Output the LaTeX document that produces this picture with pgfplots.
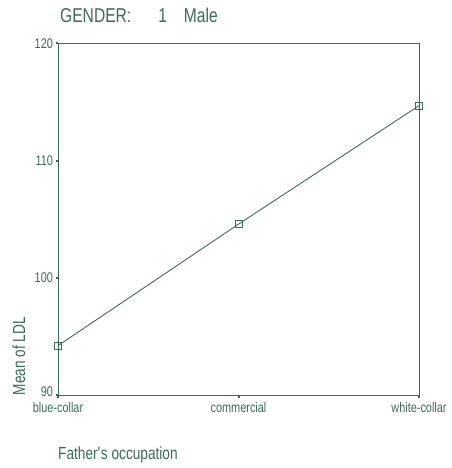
\documentclass[border=0pt]{standalone}
\usepackage{fontspec}
\setmainfont{Liberation Sans}[FakeStretch=0.78]
\usepackage{pgfplots}
\pgfplotsset{compat=1.18}
\definecolor{sg}{RGB}{59,107,87}
\begin{document}
\begin{tikzpicture}[x=1pt,y=1pt]
\path[use as bounding box] (0,0) rectangle (451,468);
\begin{axis}[
  at={(58pt,72.5pt)}, anchor=south west,
  width=361pt, height=352pt, scale only axis,
  xmin=0, xmax=2, ymin=90, ymax=120,
  xtick={0,1,2}, xticklabels={blue-collar,commercial,white-collar},
  ytick={90,100,110,120}, yticklabels={\raisebox{8pt}{90},100,110,120},
  xtick pos=lower, ytick pos=left,
  tick align=outside, major tick length=2.5pt,
  axis line style={sg, line width=1pt},
  tick style={sg, line width=2pt},
  /pgf/number format/assume math mode=true,
  ticklabel style={font=\fontsize{14}{15}\selectfont, text=sg},
  yticklabel style={xshift=1pt},
  xticklabel style={yshift=-1pt},
  clip=false,
]
\addplot[sg, line width=0.9pt, mark=square, mark size=3.5pt, mark options={line width=0.8pt, fill=white}]
  coordinates {(0,94.25) (1,104.6) (2,114.7)};
\end{axis}
\node[anchor=base west, text=sg, font=\fontsize{20}{22}\selectfont, inner sep=0] at (60,445) {GENDER:\hspace{27pt}1\hspace{17pt}Male};
\node[anchor=base west, text=sg, font=\fontsize{17.5}{19}\selectfont, inner sep=0] at (58,9) {Father\textquotesingle s occupation};
\node[anchor=base west, rotate=90, text=sg, font=\fontsize{17.5}{19}\selectfont, inner sep=0] at (25,72.5) {Mean of LDL};
\end{tikzpicture}
\end{document}
